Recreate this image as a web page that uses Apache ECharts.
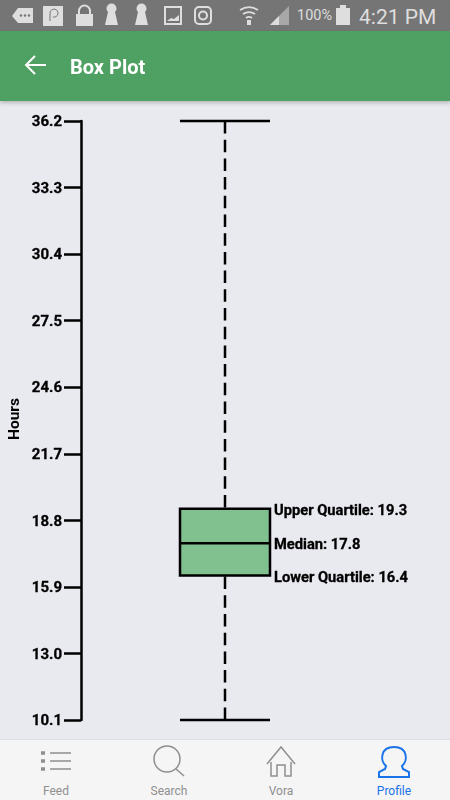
<!DOCTYPE html>
<html><head><meta charset="utf-8">
<script src="https://cdn.jsdelivr.net/npm/echarts@6/dist/echarts.min.js"></script>
<style>
html,body{margin:0;padding:0;width:450px;height:800px;overflow:hidden;background:#e9e9f0;font-family:Roboto,sans-serif}
#chart{position:absolute;left:0;top:0;width:450px;height:800px}
.abs{position:absolute}
#status{left:0;top:0;width:450px;height:31px;background:#757575;color:#dedede}
#head{left:0;top:31px;width:450px;height:70px;background:#4fa163;box-shadow:0 2px 4px rgba(0,0,0,.22);color:#fff}
#foot{left:0;top:739px;width:450px;height:61px;background:#f5f5f5;border-top:1px solid #dcdce4;box-sizing:border-box}
.tab{position:absolute;top:44px;width:100px;text-align:center;font-size:12px;color:#8f8f8f}
</style></head><body>
<div id="chart"></div>
<div id="status" class="abs">
<svg class="abs" style="left:0;top:0" width="450" height="31" fill="#dedede" stroke="none">
<path d="M12 16l6-8h15v15H18z"/><g fill="#757575"><circle cx="21" cy="15.5" r="1.2"/><circle cx="25" cy="15.5" r="1.2"/><circle cx="29" cy="15.5" r="1.2"/></g>
<rect x="43" y="6" width="20" height="20"/><path d="M50 21v-8a4 4 0 1 1 3 4" fill="none" stroke="#757575" stroke-width="1"/>
<path d="M76 14h17v12H76z"/><path d="M79 14v-3a5.500 5.500 0 0 1 11 0v3" fill="none" stroke="#dedede" stroke-width="2"/>
<path d="M108 12a5 5 0 1 1 7 0l3 13h-13z"/><path d="M138 12a5 5 0 1 1 7 0l3 13h-13z"/>
<rect x="165" y="7" width="16" height="17" fill="none" stroke="#dedede" stroke-width="2"/><path d="M167 21l4-3 3 1 5-4v6z"/>
<rect x="195" y="7" width="16" height="17" rx="4" fill="none" stroke="#dedede" stroke-width="2"/><circle cx="203" cy="15.500" r="4" fill="none" stroke="#dedede" stroke-width="2"/>
<g fill="none" stroke="#dedede" stroke-width="1.800"><path d="M240 10a17 17 0 0 1 18 0"/><path d="M243 14a11 11 0 0 1 12 0"/><path d="M246 18a5 5 0 0 1 6 0"/></g><path d="M247 20h4v5h-4z"/>
<path d="M270 25L289 6v19z" fill="#a8a8a8"/><path d="M270 25l9-9v9z"/>
<rect x="336" y="8" width="14" height="17"/><rect x="340" y="5" width="6" height="3"/>
</svg>
<div class="abs" style="left:297px;top:7px;font-size:14.5px;line-height:17px">100%</div>
<div class="abs" style="left:359px;top:4px;font-size:21px;line-height:26px;white-space:nowrap">4:21 PM</div>
</div>
<div id="head" class="abs">
<svg class="abs" style="left:24px;top:23px" width="24" height="24" fill="none" stroke="#fff" stroke-width="2"><path d="M22 11H2M11 2l-9 9 9 9"/></svg>
<div class="abs" style="left:70px;top:23px;font-size:20px;line-height:26px;font-weight:700">Box Plot</div>
</div>
<div id="foot" class="abs">
<svg class="abs" style="left:0;top:0" width="450" height="44" fill="none" stroke="#8f8f8f" stroke-width="1.500">
<path d="M50 13h21M50 21h21M50 29h21"/><path d="M41 13h4M41 21h4M41 29h4" stroke-width="3.500"/>
<circle cx="167" cy="19" r="13"/><path d="M176 29l8 7"/>
<path d="M267 24l14-17 14 17M271 22v14h6v-11h8v11h6V22"/>
<path stroke="#1a73e8" stroke-width="2" d="M386 26c-6-5-6-19 8-19s14 14 8 19l1 3 6 3v5h-30v-5l6-3z"/>
</svg>
<div class="tab" style="left:6px">Feed</div>
<div class="tab" style="left:119px">Search</div>
<div class="tab" style="left:231px">Vora</div>
<div class="tab" style="left:344px;color:#1a73e8">Profile</div>
</div>
<script>
var categories = ['Hours'];
var tickLabels = [10.1, 13.0, 15.9, 18.8, 21.7, 24.6, 27.5, 30.4, 33.3, 36.2];
var whiskerLow = [10.1];
var lowerQuartile = [16.4];
var median = [17.8];
var upperQuartile = [19.3];
var whiskerHigh = [36.2];

var chart = echarts.init(document.getElementById('chart'), null, {renderer: 'canvas'});
var lineStyle = {stroke: '#000', lineWidth: 2.5, fill: null};
var textFont = {fontFamily: 'Roboto', fontWeight: 700, fontSize: 14.7, fill: '#000', stroke: '#000', lineWidth: 0.3, align: 'left', verticalAlign: 'middle'};

function renderBox(params, api) {
  var c = api.value(0);
  var low = api.coord([c, api.value(1)]);
  var q1 = api.coord([c, api.value(2)]);
  var med = api.coord([c, api.value(3)]);
  var q3 = api.coord([c, api.value(4)]);
  var high = api.coord([c, api.value(5)]);
  var half = 45, x = low[0];
  function line(x1, y1, x2, y2, dash) {
    return {type: 'line', shape: {x1: x1, y1: y1, x2: x2, y2: y2},
      style: Object.assign({}, lineStyle, dash ? {lineDash: [12.5, 6.2]} : {})};
  }
  function label(y, name, v) {
    return {type: 'text', x: x + half + 4, y: y,
      style: Object.assign({}, textFont, {text: name + ': ' + v.toFixed(1)})};
  }
  return {type: 'group', children: [
    line(x, high[1], x, q3[1], true),
    line(x, low[1], x, q1[1], true),
    line(x - half, high[1], x + half, high[1]),
    line(x - half, low[1], x + half, low[1]),
    {type: 'rect', shape: {x: x - half, y: q3[1], width: half * 2, height: q1[1] - q3[1]},
      style: {fill: '#80c18f', stroke: '#000', lineWidth: 2.5}},
    line(x - half, med[1], x + half, med[1]),
    label(q3[1] + 2, 'Upper Quartile', api.value(4)),
    label(med[1] + 2, 'Median', api.value(3)),
    label(q1[1] + 3, 'Lower Quartile', api.value(2))
  ]};
}

chart.setOption({
  animation: false,
  backgroundColor: '#e9e9f0',
  grid: {left: 81, right: 81, top: 121, bottom: 80, outerBoundsMode: 'none'},
  xAxis: {type: 'category', data: categories, show: false},
  yAxis: {
    type: 'value', min: tickLabels[0], max: tickLabels[tickLabels.length - 1],
    name: 'Hours', nameLocation: 'middle', nameGap: 58, nameRotate: 90, nameMoveOverlap: false,
    nameTextStyle: {fontFamily: 'Roboto', fontWeight: 700, fontSize: 15.5, color: '#000', padding: [0, 0, 0, 3]},
    axisLine: {show: true, lineStyle: {color: '#000', width: 2.5}},
    axisTick: {show: true, length: 17, lineStyle: {color: '#000', width: 2.5}, customValues: tickLabels},
    axisLabel: {fontFamily: 'Roboto', fontWeight: 700, fontSize: 15, color: '#000', margin: 19,
      verticalAlign: 'top', lineHeight: 3,
      textBorderColor: '#000', textBorderWidth: 0.3,
      customValues: tickLabels, formatter: function (v) { return v.toFixed(1); }},
    splitLine: {show: false}
  },
  series: [{
    type: 'custom', renderItem: renderBox, clip: false,
    encode: {x: 0, y: [1, 2, 3, 4, 5]},
    data: [[0, whiskerLow[0], lowerQuartile[0], median[0], upperQuartile[0], whiskerHigh[0]]]
  }]
});
</script>
</body></html>
